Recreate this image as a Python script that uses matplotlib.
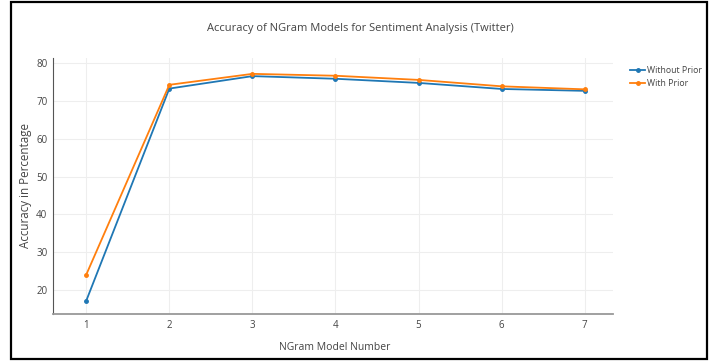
import matplotlib
matplotlib.use("Agg")
import matplotlib.pyplot as plt
from matplotlib.patches import Rectangle

ngram = [1, 2, 3, 4, 5, 6, 7]
without_prior = [17.1, 73.3, 76.6, 75.9, 74.8, 73.2, 72.7]
with_prior = [24.0, 74.3, 77.2, 76.7, 75.6, 73.9, 73.1]
yticks = [20, 30, 40, 50, 60, 70, 80]

plt.rcParams['font.family'] = ['Open Sans', 'DejaVu Sans']
txt = '#444444'

W, H = 716, 361
fig = plt.figure(figsize=(W / 100, H / 100), dpi=100)
ax = fig.add_axes([53 / W, 1 - 314 / H, (613 - 53) / W, (314 - 58) / H])

ax.plot(ngram, without_prior, color='#1f77b4', lw=1.3, marker='o', ms=2.5, label='Without Prior', zorder=3)
ax.plot(ngram, with_prior, color='#ff7f0e', lw=1.3, marker='o', ms=2.5, label='With Prior', zorder=3)

ax.set_xlim(0.6, 7.34)
ax.set_ylim(13.6, 81.4)
ax.set_xticks(ngram)
ax.set_yticks(yticks)
ax.grid(True, color='#eeeeee', lw=0.8, zorder=0)
ax.tick_params(length=0, labelsize=7, colors=txt, pad=4)

for s in ['top', 'right']:
    ax.spines[s].set_visible(False)
ax.spines['left'].set_color('#555555')
ax.spines['left'].set_linewidth(0.8)
ax.spines['bottom'].set_color('#999999')
ax.spines['bottom'].set_linewidth(1.3)

fig.text(360 / W, 1 - 28 / H, 'Accuracy of NGram Models for Sentiment Analysis (Twitter)',
         ha='center', va='center', fontsize=8, color=txt)
fig.text(335 / W, 1 - 348 / H, 'NGram Model Number', ha='center', va='center', fontsize=7.5, color=txt)
fig.text(26 / W, 1 - 186 / H, 'Accuracy in Percentage', ha='center', va='center',
         rotation=90, fontsize=8.4, color=txt)

fig.legend(loc='upper left', bbox_to_anchor=(626 / W, 1 - 62 / H), frameon=False,
           fontsize=6.3, labelcolor=txt, handlelength=1.7, handletextpad=0.25,
           labelspacing=0.45, borderpad=0)

fig.patches.append(Rectangle((11 / W, 2 / H), (707 - 11) / W, (359 - 2) / H,
                             transform=fig.transFigure, fill=False, ec='black', lw=1.6))

fig.savefig('out.png', dpi=100)
